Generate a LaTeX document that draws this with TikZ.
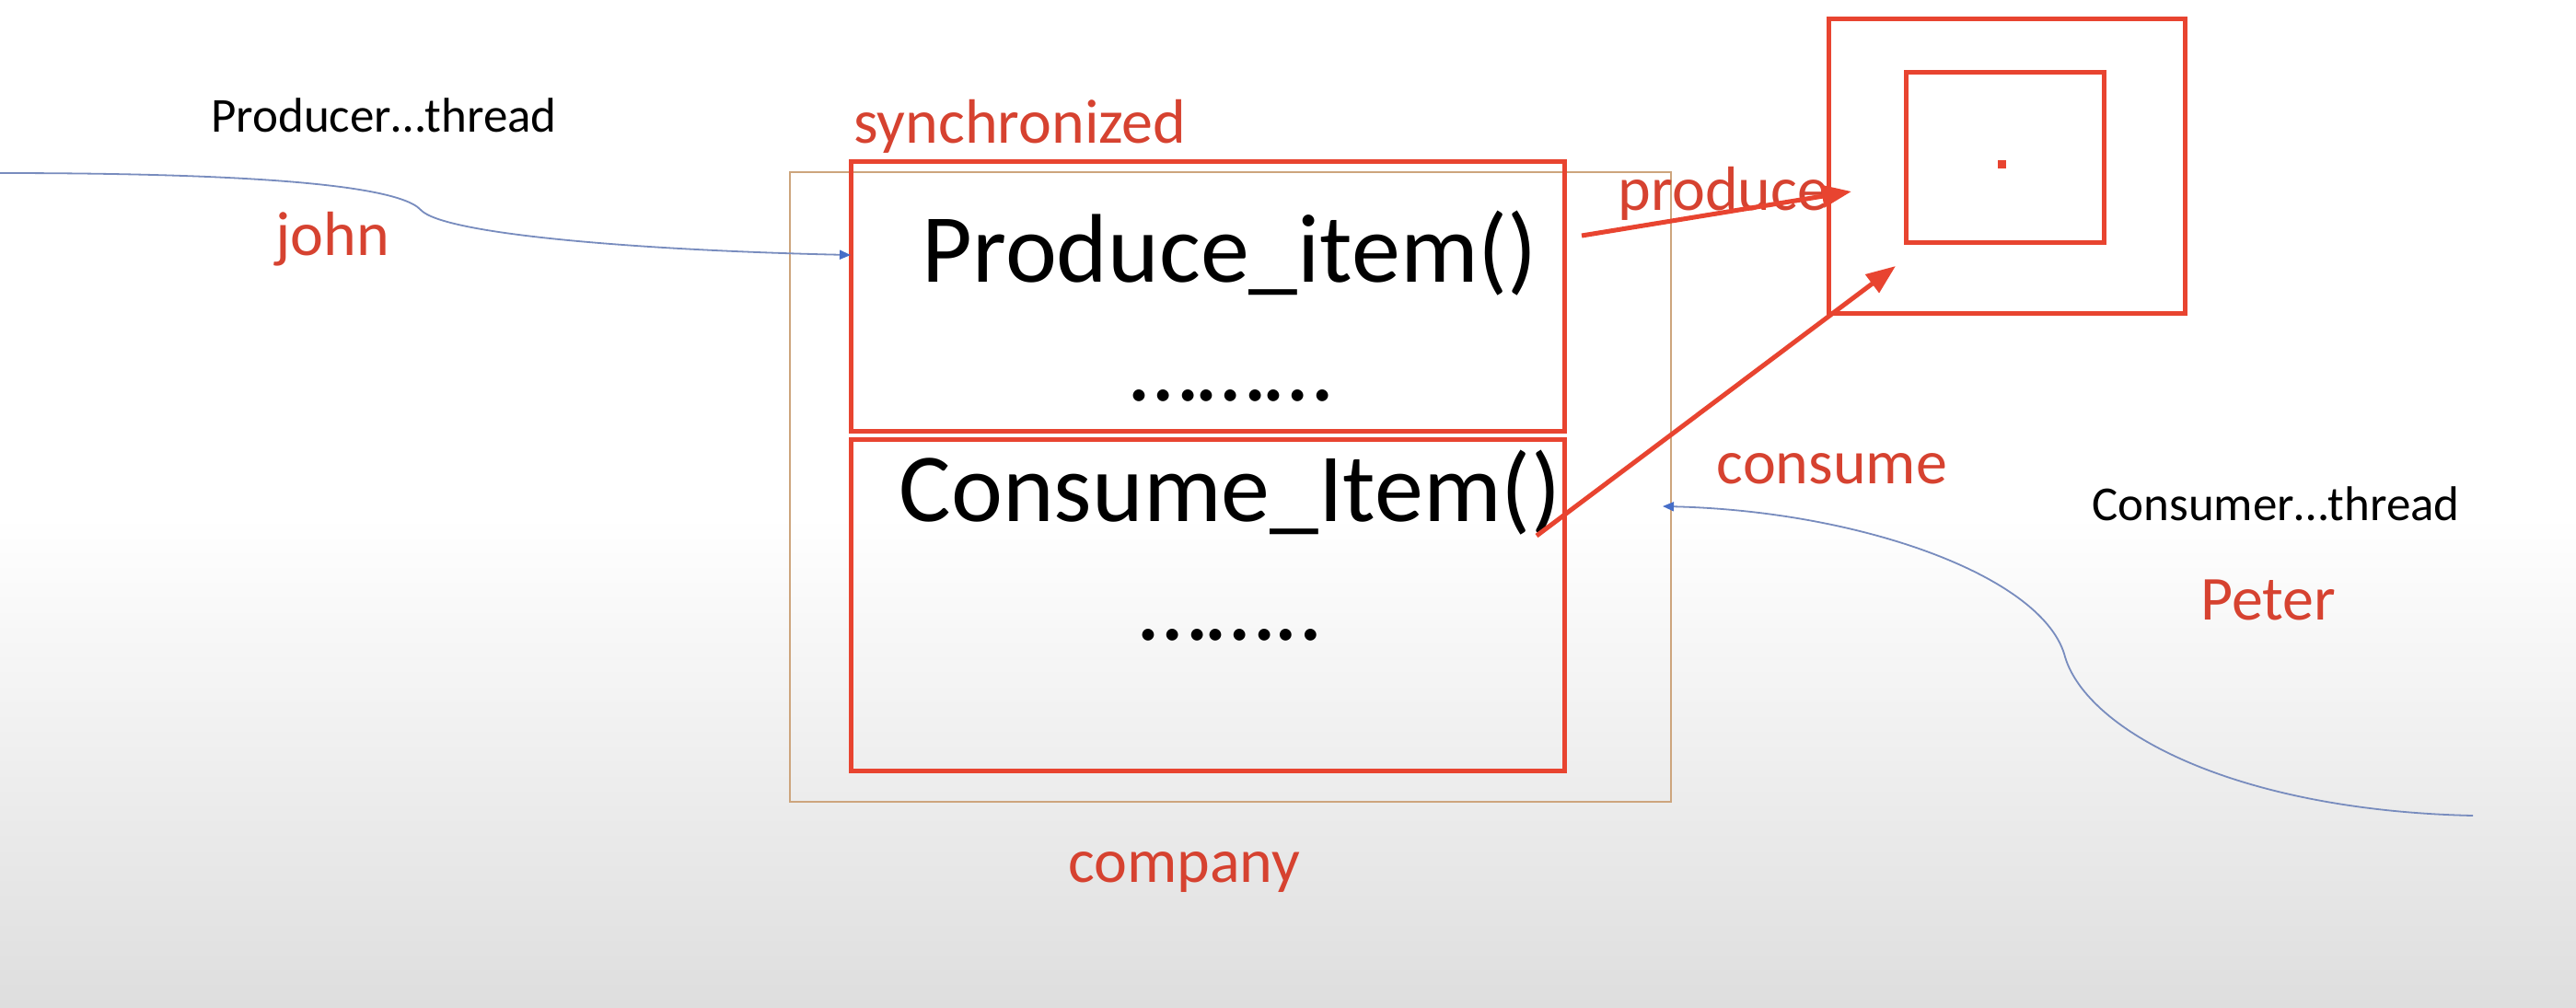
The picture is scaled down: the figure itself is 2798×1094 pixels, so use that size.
\documentclass[tikz,border=0pt]{standalone}
\usepackage{fontspec}
\setmainfont{Carlito}
\usetikzlibrary{arrows.meta}
\definecolor{boxred}{RGB}{232,68,48}
\definecolor{txtred}{RGB}{214,66,48}
\definecolor{tanline}{RGB}{205,165,125}
\definecolor{curveblue}{RGB}{120,140,190}
\definecolor{tipblue}{RGB}{70,110,200}
\definecolor{bggray}{RGB}{222,222,222}
\begin{document}
\begin{tikzpicture}[x=0.5pt,y=-0.5pt,
  redbox/.style={draw=boxred, line width=2.5pt, inner sep=0, outer sep=0},
  tanbox/.style={draw=tanline, line width=1pt, inner sep=0, outer sep=0},
  bigtxt/.style={font=\fontsize{53}{60}\selectfont, text=black, anchor=base, inner sep=0},
  redlbl/.style={font=\fontsize{34}{40}\selectfont, text=txtred, anchor=base, inner sep=0},
  blklbl/.style={font=\fontsize{26.5}{30}\selectfont, text=black, anchor=base, inner sep=0},
  redarrow/.style={draw=boxred, line width=2.5pt, -{Triangle[length=16pt,width=12pt]}},
  bluecurve/.style={draw=curveblue, line width=0.9pt, -{Triangle[length=6pt,width=5pt,color=tipblue]}}
]
\useasboundingbox (0,0) rectangle (2798,1094);
\fill[white] (0,0) rectangle (2798,1094);
\shade[top color=white, bottom color=bggray] (0,560) rectangle (2798,1094);

% company box
\node[tanbox, minimum width=478.5pt, minimum height=342pt] (company) at (1336.5,529) {};
% synchronized boxes
\node[redbox, minimum width=387.5pt, minimum height=146.5pt] (top) at (1311.5,321.5) {};
\node[redbox, minimum width=387.5pt, minimum height=180pt] (bottom) at (1311.5,657) {};
% shared resource boxes
\node[redbox, minimum width=193.5pt, minimum height=160pt] (outer) at (2179.5,180) {};
\node[redbox, minimum width=107.5pt, minimum height=92.5pt] (inner) at (2177.5,170.5) {};
\node[fill=boxred, minimum width=4.5pt, minimum height=4.5pt, inner sep=0] (dot) at (2174,178) {};

% texts
\node[blklbl] (prodthread) at (417,143) {Producer…thread};
\node[redlbl] (john) at (361,277) {john};
\node[redlbl] (sync) at (1108,155) {synchronized};
\node[bigtxt] (produceitem) at (1336,306) {Produce\_item()};
\node[bigtxt] (dots1) at (1337,435) {………};
\node[bigtxt] (consumeitem) at (1336,566) {Consume\_Item()};
\node[bigtxt] (dots2) at (1337,695) {……..};
\node[redlbl] (companylbl) at (1286,958) {company};
\node[redlbl] (producelbl) at (1872,228) {produce};
\node[redlbl] (consumelbl) at (1990,525) {consume};
\node[blklbl] (consthread) at (2472,565) {Consumer…thread};
\node[redlbl] (peter) at (2464,673) {Peter};

% red arrows
\coordinate (pa) at (1718,256);
\coordinate (pb) at (2011,208);
\coordinate (ca) at (1669,582);
\coordinate (cb) at (2059,289);
\draw[redarrow] (pa) -- (pb);
\draw[redarrow] (ca) -- (cb);

% thread curves
\coordinate (js) at (0,188);
\coordinate (jk) at (457,228);
\coordinate (je) at (924,277);
\draw[bluecurve] (js) .. controls (200,188) and (427,195) .. (jk)
  .. controls (482,255) and (700,272) .. (je);
\coordinate (ps) at (2686,886);
\coordinate (pk) at (2242,710);
\coordinate (pe) at (1806,550);
\draw[bluecurve] (ps) .. controls (2420,880) and (2262,790) .. (pk)
  .. controls (2215,625) and (2020,555) .. (pe);
\end{tikzpicture}
\end{document}
